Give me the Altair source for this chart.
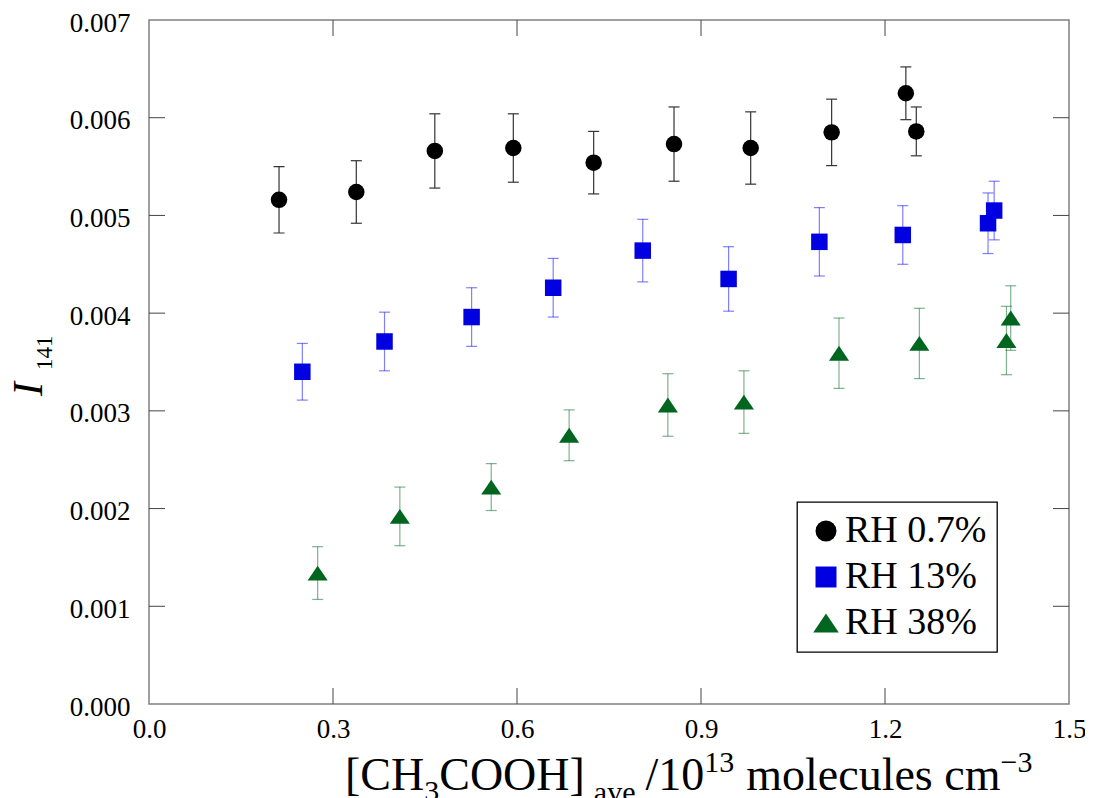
import altair as alt
import pandas as pd

# ---------------- data ----------------
series_names = ["RH 0.7%", "RH 13%", "RH 38%"]

rh07_x = [0.212, 0.338, 0.466, 0.594, 0.725, 0.856, 0.981, 1.113, 1.234, 1.251]
rh07_y = [0.00516, 0.00524, 0.00566, 0.00569, 0.00554, 0.00573, 0.00569, 0.00585, 0.00625, 0.00586]
rh07_err = [0.00034, 0.00032, 0.00038, 0.00035, 0.00032, 0.00038, 0.00037, 0.00034, 0.00027, 0.00025]

rh13_x = [0.250, 0.384, 0.526, 0.659, 0.805, 0.945, 1.093, 1.229, 1.368, 1.378]
rh13_y = [0.00340, 0.00371, 0.00396, 0.00426, 0.00464, 0.00435, 0.00473, 0.00480, 0.00492, 0.00505]
rh13_err = [0.00029, 0.00030, 0.00030, 0.00030, 0.00032, 0.00033, 0.00035, 0.00030, 0.00031, 0.00030]

rh38_x = [0.275, 0.409, 0.558, 0.685, 0.846, 0.970, 1.125, 1.256, 1.398, 1.405]
rh38_y = [0.00134, 0.00192, 0.00222, 0.00275, 0.00306, 0.00309, 0.00359, 0.00369, 0.00372, 0.00395]
rh38_err = [0.00027, 0.00030, 0.00024, 0.00026, 0.00032, 0.00032, 0.00036, 0.00036, 0.00035, 0.00033]

x_tick_values = [0.0, 0.3, 0.6, 0.9, 1.2, 1.5]
y_tick_values = [0.000, 0.001, 0.002, 0.003, 0.004, 0.005, 0.006, 0.007]
inner_x_ticks = [0.3, 0.6, 0.9, 1.2]
inner_y_ticks = [0.001, 0.002, 0.003, 0.004, 0.005, 0.006]

# ---------------- styling ----------------
FONT = "Liberation Serif"
W, H = 920, 684
PAD_L, PAD_T = 141, 12
OX, OY = 8 + PAD_L, 8 + PAD_T          # page position of the plot origin
marker_colors = ["#000000", "#0000e0", "#00661f"]
marker_shapes = ["circle", "square", "M0,-0.9L1.22,0.9L-1.22,0.9Z"]
err_style = {"RH 0.7%": ("#333333", 1.0), "RH 13%": ("#0000ff", 0.5), "RH 38%": ("#00661f", 0.5)}

rows = []
for name, xs, ys, es in zip(series_names, [rh07_x, rh13_x, rh38_x],
                            [rh07_y, rh13_y, rh38_y], [rh07_err, rh13_err, rh38_err]):
    for xv, yv, ev in zip(xs, ys, es):
        rows.append({"series": name, "x": xv, "y": yv, "lo": yv - ev, "hi": yv + ev})
df = pd.DataFrame(rows)

x_scale = alt.Scale(domain=[0, 1.5], nice=False, zero=False)
y_scale = alt.Scale(domain=[0, 0.007], nice=False, zero=False)
x_axis = alt.Axis(values=x_tick_values, format=".1f", title=None, grid=False, domain=False,
                  ticks=False, labelFont=FONT, labelFontSize=27, labelColor="black",
                  labelPadding=12, labelFlush=False, labelOverlap=False)
y_axis = alt.Axis(values=y_tick_values, format=".3f", title=None, grid=False, domain=False,
                  ticks=False, labelFont=FONT, labelFontSize=27, labelColor="black",
                  labelPadding=19, labelOffset=3, labelOverlap=False)


def X(f):
    return alt.X(f, type="quantitative", scale=x_scale, axis=x_axis)


def Y(f):
    return alt.Y(f, type="quantitative", scale=y_scale, axis=y_axis)


layers = []
base = alt.Chart(df)
for name in series_names:
    c, o = err_style[name]
    sub = base.transform_filter(alt.datum.series == name)
    layers.append(sub.mark_rule(color=c, opacity=o, strokeWidth=1.2).encode(
        x=X("x"), y=Y("lo"), y2=alt.Y2("hi")))
    for f in ["lo", "hi"]:
        layers.append(sub.mark_tick(orient="horizontal", size=11, thickness=1.2,
                                    color=c, opacity=o).encode(x=X("x"), y=Y(f)))

leg = alt.Legend(title=None, orient="none", legendX=797 - OX, legendY=502 - OY, fillColor="white",
                 strokeColor="black", padding=10, labelFont=FONT, labelFontSize=38,
                 labelColor="black", symbolSize=440, symbolStrokeWidth=0, symbolOpacity=1,
                 rowPadding=8, labelOffset=0, labelLimit=500,
                 labelExpr="datum.label + ' '")

points = base.mark_point(filled=True, opacity=1, size=272, strokeWidth=0).encode(
    x=X("x"), y=Y("y"),
    color=alt.Color("series:N", scale=alt.Scale(domain=series_names, range=marker_colors), legend=leg),
    shape=alt.Shape("series:N", scale=alt.Scale(domain=series_names, range=marker_shapes), legend=leg),
)
layers.append(points)

# inward ticks on all four sides
xt = alt.Chart(pd.DataFrame({"x": inner_x_ticks}))
yt = alt.Chart(pd.DataFrame({"y": inner_y_ticks}))
tick_color = "#444444"
layers.append(xt.mark_rule(color=tick_color, strokeWidth=1).encode(x=X("x"), y=alt.value(H), y2=alt.value(H - 16)))
layers.append(xt.mark_rule(color=tick_color, strokeWidth=1).encode(x=X("x"), y=alt.value(0), y2=alt.value(16)))
layers.append(yt.mark_rule(color=tick_color, strokeWidth=1).encode(y=Y("y"), x=alt.value(0), x2=alt.value(16)))
layers.append(yt.mark_rule(color=tick_color, strokeWidth=1).encode(y=Y("y"), x=alt.value(W), x2=alt.value(W - 16)))


# ---------------- axis titles built from text pieces ----------------
def txt(s, x, y, size, angle=None, style=None):
    kw = dict(align="left", baseline="alphabetic", font=FONT, fontSize=size, color="black")
    if angle is not None:
        kw["angle"] = angle
    if style is not None:
        kw["fontStyle"] = style
    return alt.Chart(alt.Data(values=[{"t": s}])).mark_text(**kw).encode(
        text="t:N", x=alt.value(x - OX), y=alt.value(y - OY))


widths = {'[': 333, ']': 333, 'C': 667, 'H': 722, 'O': 722, '3': 500, '1': 500, '0': 500,
          'a': 444, 'v': 500, 'e': 444, '/': 278, ' ': 250, 'm': 778, 'o': 500, 'l': 278,
          'c': 444, 'u': 500, 's': 389, '\u2212': 564}


def tw(s, size):
    return sum(widths.get(ch, 500) for ch in s) / 1000.0 * size


F, S = 46, 30
base_y = 790
# (text, font size, vertical shift, gap before)
x_title = [("[CH", F, 0, 0), ("3", S, 11, 0), ("COOH]", F, 0, 0), ("ave", S, 12, 9),
           ("/10", F, 0, 10), ("13", S, -18, 0), ("molecules", F, 0, 12),
           ("cm", F, 0, 11.5), ("\u22123", S, -18, 0)]
cx = 345
for s, size, dy, gap in x_title:
    cx += gap
    layers.append(txt(s, cx, base_y + dy, size))
    cx += tw(s, size)

# y title: italic I with subscript 141, rotated
layers.append(txt("I", 42, 396, 42, angle=270, style="italic"))
layers.append(txt("141", 52, 370, 23, angle=270))

chart = alt.layer(*layers).properties(
    width=W, height=H,
    autosize=alt.AutoSizeParams(type="none"),
    padding={"left": PAD_L, "top": PAD_T, "right": 16, "bottom": 96},
).configure_view(stroke="#808080", strokeWidth=1.5).configure_legend(strokeWidth=1.3)

chart.save("out.html", embed_options={"renderer": "svg", "actions": False})
